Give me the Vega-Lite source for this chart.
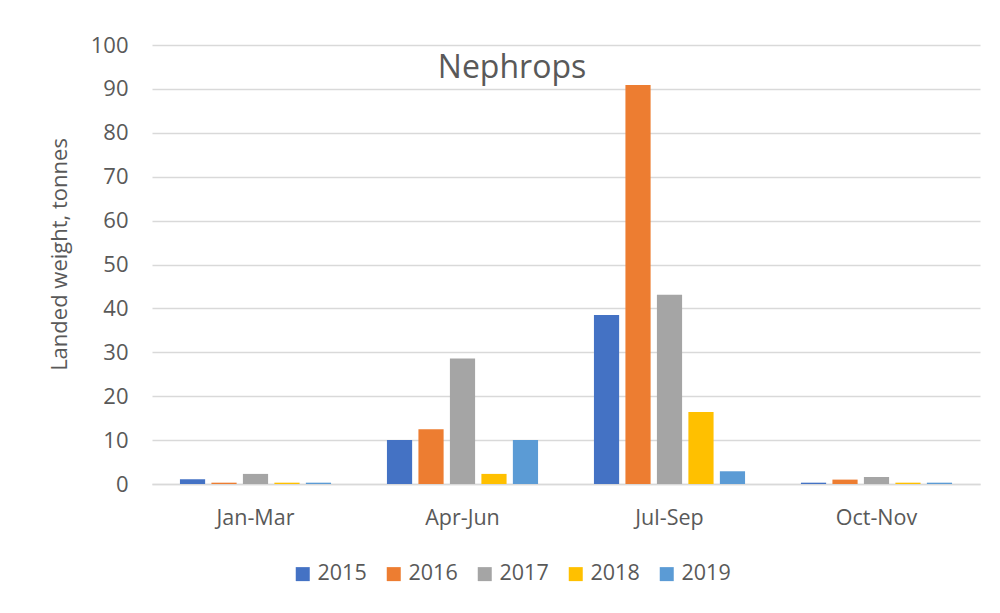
{
  "$schema": "https://vega.github.io/schema/vega-lite/v6.json",
  "width": 828,
  "height": 439,
  "autosize": {"type": "none"},
  "padding": {"left": 152, "top": 45, "right": 20, "bottom": 129},
  "background": "white",
  "title": {
    "text": "Nephrops",
    "font": "Open Sans",
    "fontSize": 32,
    "fontWeight": "normal",
    "color": "#595959",
    "anchor": "middle",
    "frame": "group",
    "dx": -54,
    "offset": -51
  },
  "data": {
    "values": [
      {"quarter": "Jan-Mar", "year": "2015", "weight": 1.1},
      {"quarter": "Jan-Mar", "year": "2016", "weight": 0.3},
      {"quarter": "Jan-Mar", "year": "2017", "weight": 2.3},
      {"quarter": "Jan-Mar", "year": "2018", "weight": 0.3},
      {"quarter": "Jan-Mar", "year": "2019", "weight": 0.3},
      {"quarter": "Apr-Jun", "year": "2015", "weight": 10.0},
      {"quarter": "Apr-Jun", "year": "2016", "weight": 12.5},
      {"quarter": "Apr-Jun", "year": "2017", "weight": 28.6},
      {"quarter": "Apr-Jun", "year": "2018", "weight": 2.3},
      {"quarter": "Apr-Jun", "year": "2019", "weight": 10.0},
      {"quarter": "Jul-Sep", "year": "2015", "weight": 38.5},
      {"quarter": "Jul-Sep", "year": "2016", "weight": 90.9},
      {"quarter": "Jul-Sep", "year": "2017", "weight": 43.1},
      {"quarter": "Jul-Sep", "year": "2018", "weight": 16.4},
      {"quarter": "Jul-Sep", "year": "2019", "weight": 2.9},
      {"quarter": "Oct-Nov", "year": "2015", "weight": 0.3},
      {"quarter": "Oct-Nov", "year": "2016", "weight": 1.0},
      {"quarter": "Oct-Nov", "year": "2017", "weight": 1.6},
      {"quarter": "Oct-Nov", "year": "2018", "weight": 0.3},
      {"quarter": "Oct-Nov", "year": "2019", "weight": 0.3}
    ]
  },
  "mark": {"type": "bar"},
  "encoding": {
    "x": {
      "field": "quarter",
      "type": "nominal",
      "sort": ["Jan-Mar", "Apr-Jun", "Jul-Sep", "Oct-Nov"],
      "scale": {"paddingInner": 0.27, "paddingOuter": 0.135},
      "axis": {
        "title": null,
        "labelAngle": 0,
        "labelFont": "Open Sans",
        "labelFontSize": 21.5,
        "labelColor": "#595959",
        "labelPadding": 23,
        "ticks": false,
        "domainColor": "#d9d9d9",
        "domainWidth": 1.5
      }
    },
    "xOffset": {
      "field": "year",
      "type": "nominal",
      "scale": {"paddingInner": 0.2, "paddingOuter": 0}
    },
    "y": {
      "field": "weight",
      "type": "quantitative",
      "scale": {"domain": [0, 100], "nice": false},
      "axis": {
        "title": "Landed weight, tonnes",
        "titleFont": "Open Sans",
        "titleFontSize": 22,
        "titleFontWeight": "normal",
        "titleColor": "#595959",
        "titlePadding": 19,
        "titleY": 209,
        "values": [0, 10, 20, 30, 40, 50, 60, 70, 80, 90, 100],
        "labelFont": "Open Sans",
        "labelFontSize": 22,
        "labelColor": "#595959",
        "labelPadding": 24,
        "ticks": false,
        "domain": false,
        "grid": true,
        "gridColor": "#d9d9d9",
        "gridWidth": 1.5
      }
    },
    "color": {
      "field": "year",
      "type": "nominal",
      "scale": {
        "domain": ["2015", "2016", "2017", "2018", "2019"],
        "range": ["#4472C4", "#ED7D31", "#A5A5A5", "#FFC000", "#5B9BD5"]
      },
      "legend": {
        "title": null,
        "orient": "none",
        "direction": "horizontal",
        "legendX": 140,
        "legendY": 518,
        "padding": 0,
        "symbolType": "square",
        "symbolSize": 196,
        "symbolStrokeWidth": 0,
        "labelFont": "Open Sans",
        "labelFontSize": 21.5,
        "labelColor": "#595959",
        "labelOffset": 4,
        "columnPadding": 16
      }
    }
  },
  "config": {
    "view": {"stroke": null},
    "axis": {"labelFont": "Open Sans"}
  }
}
